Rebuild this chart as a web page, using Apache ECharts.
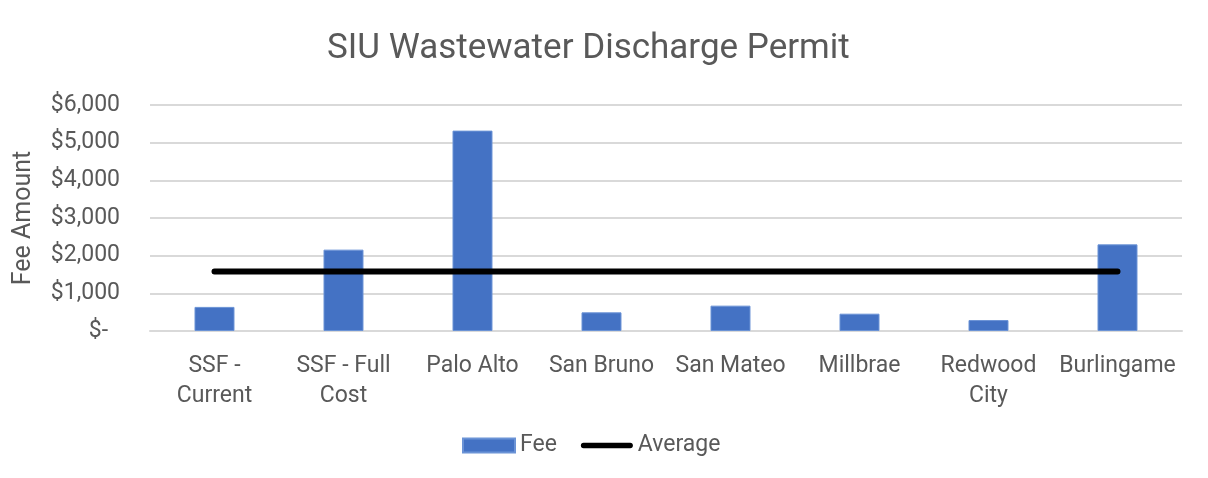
<!DOCTYPE html>
<html>
<head>
<meta charset="utf-8">
<script src="https://cdn.jsdelivr.net/npm/echarts@6/dist/echarts.min.js"></script>
<style>
  html, body { margin: 0; padding: 0; background: #ffffff; }
  #chart { width: 1208px; height: 478px; }
</style>
</head>
<body>
<div id="chart"></div>
<script>
// Permit fees by city
const categories = ['SSF -\nCurrent', 'SSF - Full\nCost', 'Palo Alto', 'San Bruno', 'San Mateo', 'Millbrae', 'Redwood\nCity', 'Burlingame'];
const feeValues = [640, 2160, 5320, 495, 673, 460, 290, 2300];
const averageValues = [1580, 1580, 1580, 1580, 1580, 1580, 1580, 1580];
const yTickLabels = ['$-', '$1,000', '$2,000', '$3,000', '$4,000', '$5,000', '$6,000'];

const textColor = '#595959';
const gridColor = '#d9d9d9';
const fontFamily = 'Roboto, "Noto Sans", sans-serif';

// thick rounded stroke used as the legend marker of the average line
const averageIcon = 'path://M3,0 L55,0 A3,3 0 0 1 55,6 L3,6 A3,3 0 0 1 3,0 Z';

const chart = echarts.init(document.getElementById('chart'));
chart.setOption({
  animation: false,
  textStyle: { fontFamily: fontFamily, color: textColor },
  title: {
    text: 'SIU Wastewater Discharge Permit',
    left: 322,
    top: 27,
    textStyle: { fontFamily: fontFamily, fontSize: 35, fontWeight: 'normal', color: textColor }
  },
  legend: {
    bottom: 16,
    left: 457,
    itemGap: 24,
    itemWidth: 52,
    itemHeight: 14,
    textStyle: { fontFamily: fontFamily, fontSize: 23, color: textColor },
    data: [
      { name: 'Fee', icon: 'rect' },
      { name: 'Average', icon: averageIcon, itemStyle: { color: '#000000' } }
    ]
  },
  grid: { left: 150, right: 26, top: 105, bottom: 147, containLabel: false, outerBoundsMode: 'none' },
  xAxis: {
    type: 'category',
    data: categories,
    boundaryGap: true,
    axisLine: { show: true, lineStyle: { color: gridColor, width: 2 } },
    axisTick: { show: false },
    axisLabel: {
      interval: 0,
      margin: 20,
      fontSize: 23,
      lineHeight: 30,
      color: textColor,
      fontFamily: fontFamily
    }
  },
  yAxis: {
    type: 'value',
    min: 0,
    max: 6000,
    interval: 1000,
    name: 'Fee Amount',
    nameLocation: 'middle',
    nameGap: 114,
    nameRotate: 90,
    nameTextStyle: { fontSize: 25, color: textColor, fontFamily: fontFamily },
    axisLine: { show: false },
    axisTick: { show: false },
    splitLine: { lineStyle: { color: gridColor, width: 2 } },
    axisLabel: {
      margin: 30,
      fontSize: 23,
      color: textColor,
      fontFamily: fontFamily,
      formatter: function (v) {
        const label = yTickLabels[Math.round(v / 1000)];
        return v === 0 ? '{z|' + label + '}' : label;
      },
      rich: {
        z: { fontSize: 23, color: textColor, fontFamily: fontFamily, padding: [0, 12, 0, 0] }
      }
    }
  },
  series: [
    {
      name: 'Fee',
      type: 'bar',
      data: feeValues,
      barWidth: '31%',
      itemStyle: { color: '#4472c4', borderColor: '#6b93d6', borderWidth: 1 }
    },
    {
      name: 'Average',
      type: 'line',
      data: averageValues,
      symbol: 'none',
      lineStyle: { color: '#000000', width: 6, cap: 'round' },
      itemStyle: { color: '#000000' }
    }
  ]
});
</script>
</body>
</html>
